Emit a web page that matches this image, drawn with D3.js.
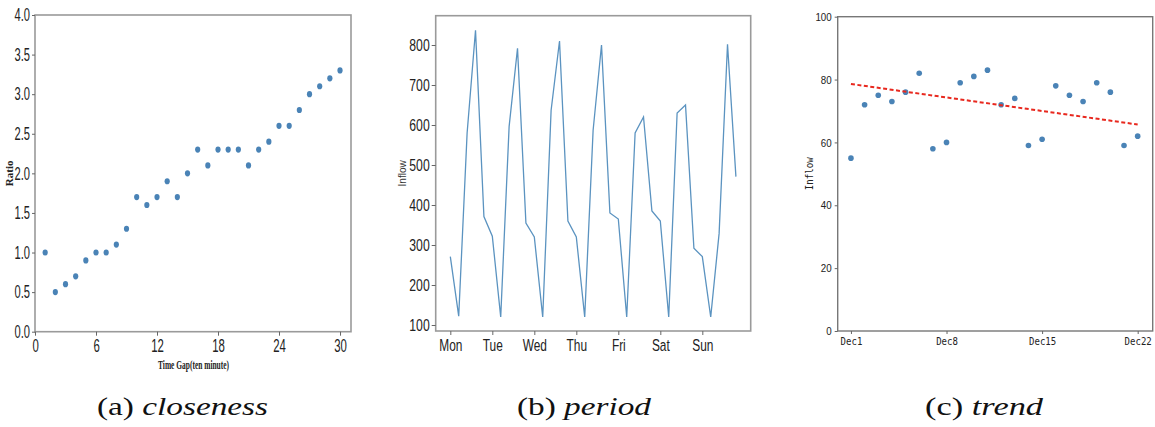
<!DOCTYPE html>
<html><head><meta charset="utf-8">
<script src="https://cdn.jsdelivr.net/npm/d3@7"></script>
<style>
html,body{margin:0;padding:0;background:#fff;}
svg{display:block;}
.cx text{transform-box:fill-box;transform-origin:center;}
.cy text{transform-box:fill-box;transform-origin:right center;}
</style></head><body>
<svg id="c" width="1155" height="427"></svg>
<script>
// ---- data ----
// (a) closeness
const gapX = [1,2,3,4,5,6,7,8,9,10,11,12,13,14,15,16,17,18,19,20,21,22,23,24,25,26,27,28,29,30];
const ratioY = [1.0,0.5,0.6,0.7,0.9,1.0,1.0,1.1,1.3,1.7,1.6,1.7,1.9,1.7,2.0,2.3,2.1,2.3,2.3,2.3,2.1,2.3,2.4,2.6,2.6,2.8,3.0,3.1,3.2,3.3];
const aXTicks = [0,6,12,18,24,30];
const aYTicks = [0.0,0.5,1.0,1.5,2.0,2.5,3.0,3.5,4.0];
// (b) period (5 samples per day)
const periodInflow = [271,122,580,837,371, 322,120,596,792,355, 320,120,637,810,360, 320,120,587,800,380, 365,120,580,620,385, 360,120,630,650,292, 271,120,329,802,471];
const days = ["Mon","Tue","Wed","Thu","Fri","Sat","Sun"];
const bYTicks = [100,200,300,400,500,600,700,800];
// (c) trend
const trendDay = [1,2,3,4,5,6,7,8,9,10,11,12,13,14,15,16,17,18,19,20,21,22];
const trendInflow = [55,72,75,73,76,82,58,60,79,81,83,72,74,59,61,78,75,73,79,76,59,62];
const trendLineDay = [1,22];
const trendLineVal = [78.6,65.7];
const cXTicks = [1,8,15,22];
const cXLabels = ["Dec1","Dec8","Dec15","Dec22"];
const cYTicks = [0,20,40,60,80,100];
const captions = [["(a) ","closeness"],["(b) ","period"],["(c) ","trend"]];

const svg = d3.select("#c");
const dotColor = "#4a83b6";

// ---------- panel (a) ----------
{
  const L=35,T=15,R=351,B=331.7;
  const x = d3.scaleLinear().domain([0,31.08]).range([L,R]);
  const y = d3.scaleLinear().domain([0,4]).range([B,T]);
  const g = svg.append("g");
  g.append("rect").attr("x",L).attr("y",T).attr("width",R-L).attr("height",B-T)
    .attr("fill","none").attr("stroke","#9a9a9a").attr("stroke-width",1.6);
  const ax = g.append("g").attr("class","cx").attr("transform",`translate(0,${B})`)
    .call(d3.axisBottom(x).tickValues(aXTicks).tickSize(4).tickPadding(3).tickFormat(d3.format("d")));
  ax.select(".domain").remove();
  ax.selectAll("line").attr("stroke","#666");
  ax.selectAll("text").attr("font-family","Liberation Sans, Arial, sans-serif").attr("font-size",19)
    .attr("fill","#222").style("transform","scaleX(0.6)");
  const ay = g.append("g").attr("class","cy").attr("transform",`translate(${L},0)`)
    .call(d3.axisLeft(y).tickValues(aYTicks).tickSize(3).tickPadding(2).tickFormat(d3.format(".1f")));
  ay.select(".domain").remove();
  ay.selectAll("line").attr("stroke","#666");
  ay.selectAll("text").attr("font-family","Liberation Sans, Arial, sans-serif").attr("font-size",18)
    .attr("fill","#222").style("transform","scaleX(0.62)");
  g.selectAll("ellipse").data(gapX).join("ellipse")
    .attr("cx",(d)=>x(d)).attr("cy",(d,i)=>y(ratioY[i])).attr("rx",2.6).attr("ry",3.1).attr("fill",dotColor);
  g.append("text").attr("transform",`translate(13,${(T+B)/2}) rotate(-90)`).attr("text-anchor","middle")
    .attr("font-family","Liberation Serif, serif").attr("font-weight","bold").attr("font-size",11).attr("fill","#222").text("Ratio");
  g.append("text").attr("x",193.5).attr("y",369).attr("text-anchor","middle")
    .attr("font-family","Liberation Serif, serif").attr("font-weight","bold").attr("font-size",13).attr("fill","#222")
    .attr("textLength",71).attr("lengthAdjust","spacingAndGlyphs").text("Time Gap(ten minute)");
}

// ---------- panel (b) ----------
{
  const L=435.7,T=15.7,R=750.7,B=331;
  const x = d3.scaleLinear().domain([-1.74,35.76]).range([L,R]);
  const y = d3.scaleLinear().domain([85,873.25]).range([B,T]);
  const g = svg.append("g");
  g.append("rect").attr("x",L).attr("y",T).attr("width",R-L).attr("height",B-T)
    .attr("fill","none").attr("stroke","#9a9a9a").attr("stroke-width",1.6);
  const ax = g.append("g").attr("class","cx").attr("transform",`translate(0,${B})`)
    .call(d3.axisBottom(x).tickValues(days.map((d,i)=>i*5)).tickSize(4).tickPadding(4).tickFormat((d)=>days[d/5]));
  ax.select(".domain").remove();
  ax.selectAll("line").attr("stroke","#666");
  ax.selectAll("text").attr("font-family","Liberation Sans, Arial, sans-serif").attr("font-size",17)
    .attr("fill","#222").style("transform","scaleX(0.7)");
  const ay = g.append("g").attr("class","cy").attr("transform",`translate(${L},0)`)
    .call(d3.axisLeft(y).tickValues(bYTicks).tickSize(4).tickPadding(2).tickFormat(d3.format("d")));
  ay.select(".domain").remove();
  ay.selectAll("line").attr("stroke","#666");
  ay.selectAll("text").attr("font-family","Liberation Sans, Arial, sans-serif").attr("font-size",17)
    .attr("fill","#222").style("transform","scaleX(0.72)");
  const line = d3.line().x((d,i)=>x(i)).y((d)=>y(d));
  g.append("path").attr("d",line(periodInflow)).attr("fill","none").attr("stroke","#5b93c0").attr("stroke-width",1.3);
  g.append("text").attr("transform",`translate(406,${(T+B)/2}) rotate(-90)`).attr("text-anchor","middle")
    .attr("font-family","Liberation Sans, Arial, sans-serif").attr("font-size",10).attr("fill","#333").text("Inflow");
}

// ---------- panel (c) ----------
{
  const L=837.7,T=16.7,R=1152.7,B=331;
  const x = d3.scaleLinear().domain([0.03,23.1]).range([L,R]);
  const y = d3.scaleLinear().domain([0,100]).range([B,T]);
  const g = svg.append("g");
  g.append("rect").attr("x",L).attr("y",T).attr("width",R-L).attr("height",B-T)
    .attr("fill","none").attr("stroke","#777").attr("stroke-width",1.4);
  const ax = g.append("g").attr("class","cx").attr("transform",`translate(0,${B})`)
    .call(d3.axisBottom(x).tickValues(cXTicks).tickSize(3).tickPadding(4).tickFormat((d,i)=>cXLabels[i]));
  ax.select(".domain").remove();
  ax.selectAll("line").attr("stroke","#666");
  ax.selectAll("text").attr("font-family","DejaVu Sans Mono, monospace").attr("font-size",10.5)
    .attr("fill","#222").style("transform","scaleX(0.86)");
  const ay = g.append("g").attr("class","cy").attr("transform",`translate(${L},0)`)
    .call(d3.axisLeft(y).tickValues(cYTicks).tickSize(3).tickPadding(3).tickFormat(d3.format("d")));
  ay.select(".domain").remove();
  ay.selectAll("line").attr("stroke","#666");
  ay.selectAll("text").attr("font-family","Liberation Sans, Arial, sans-serif").attr("font-size",11.5)
    .attr("fill","#222").style("transform","scaleX(0.85)");
  g.selectAll("circle").data(trendDay).join("circle")
    .attr("cx",(d)=>x(d)).attr("cy",(d,i)=>y(trendInflow[i])).attr("r",2.8).attr("fill",dotColor);
  const tl = d3.line().x((d)=>x(d)).y((d,i)=>y(trendLineVal[i]));
  g.append("path").attr("d",tl(trendLineDay)).attr("fill","none").attr("stroke","#e8281e")
    .attr("stroke-width",2).attr("stroke-dasharray","4,2.5");
  g.append("text").attr("transform",`translate(813,${(T+B)/2}) rotate(-90)`).attr("text-anchor","middle")
    .attr("font-family","DejaVu Sans Mono, monospace").attr("font-size",10.5).attr("fill","#222")
    .attr("textLength",33).attr("lengthAdjust","spacingAndGlyphs").text("Inflow");
}

// ---------- captions ----------
const capX = [182.5,584,984];
const capW = [171,134,118];
captions.forEach((c,i)=>{
  const t = svg.append("text").attr("x",capX[i]).attr("y",415).attr("text-anchor","middle")
    .attr("font-family","Liberation Serif, Times New Roman, serif").attr("font-size",25).attr("fill","#111")
    .attr("textLength",capW[i]).attr("lengthAdjust","spacingAndGlyphs");
  t.append("tspan").text(c[0]);
  t.append("tspan").attr("font-style","italic").text(c[1]);
});
</script></body></html>
